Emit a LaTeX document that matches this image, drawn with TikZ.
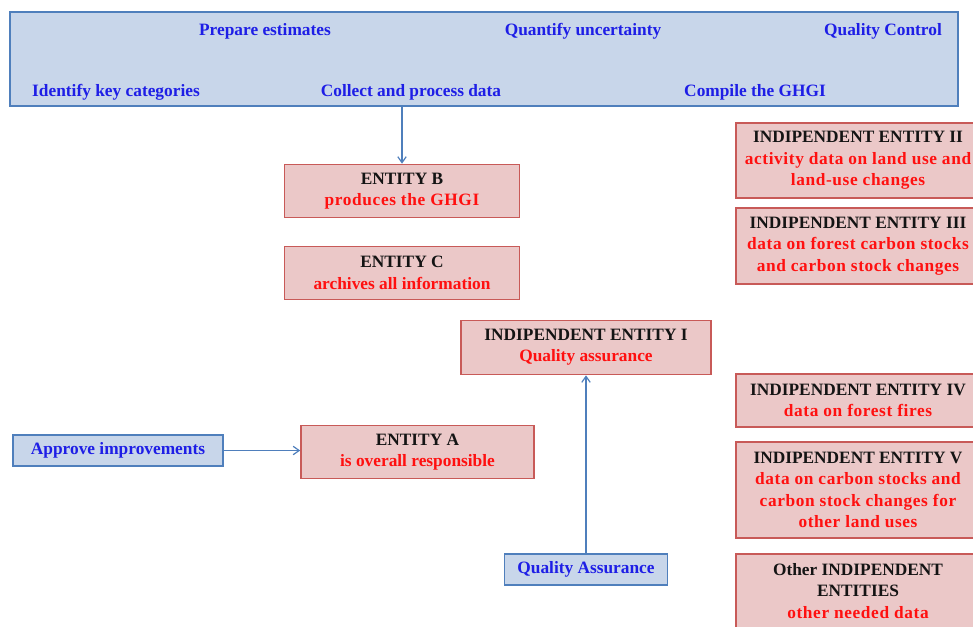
\documentclass[tikz,border=0pt]{standalone}
\usepackage{fontspec}
\setmainfont{Liberation Serif}
\usetikzlibrary{arrows.meta}
\definecolor{bfill}{HTML}{C8D6EA}
\definecolor{bdraw}{HTML}{4F7FBC}
\definecolor{rfill}{HTML}{EBC8C8}
\definecolor{rdraw}{HTML}{C85A58}
\definecolor{btext}{HTML}{1E1EE6}
\definecolor{rtext}{HTML}{FF1010}
\definecolor{ttext}{HTML}{141414}
\tikzset{
  ent/.style={draw=rdraw, fill=rfill, line width=1.2pt, inner sep=0pt, align=center,
    font=\bfseries\fontsize{13}{16}\selectfont, text=ttext},
  act/.style={draw=bdraw, fill=bfill, line width=1.2pt, inner sep=0pt, align=center,
    font=\bfseries\fontsize{13}{16}\selectfont, text=btext},
  lbl/.style={inner sep=0pt, font=\bfseries\fontsize{13}{16}\selectfont, text=btext},
  conn/.style={draw=bdraw, line width=0.9pt, -{Straight Barb[angle=70:5.5pt]}},
}
\newcommand{\rt}[1]{\textcolor{rtext}{#1}}
\newcommand{\rs}[1]{\textcolor{rtext}{\addfontfeature{LetterSpace=3.5}#1}}
\begin{document}
\begin{tikzpicture}[x=0.75pt,y=-0.75pt]
\useasboundingbox (0,0) rectangle (973,626);
\clip (0,0) rectangle (973,626);
% banner
\node[draw=bdraw, fill=bfill, line width=2pt, inner sep=0pt, minimum width=948*0.75pt, minimum height=94*0.75pt] (banner) at (484,59) {};
\node[lbl] (pe) at (265,31) {Prepare estimates};
\node[lbl] (qu) at (583,31) {Quantify uncertainty};
\node[lbl] (qc) at (883,31) {Quality Control};
\node[lbl] (ik) at (116,92) {Identify key categories};
\node[lbl] (cp) at (411,92) {Collect and process data};
\node[lbl] (cg) at (755,92) {Compile the GHGI};
% entities
\node[ent, minimum width=235*0.75pt, minimum height=53*0.75pt] (eb) at (402,191) {ENTITY B\\\rs{produces the GHGI}};
\node[ent, minimum width=235*0.75pt, minimum height=53*0.75pt] (ec) at (402,273) {ENTITY C\\\rt{archives all information}};
\node[ent, minimum width=250*0.75pt, minimum height=54*0.75pt] (e1) at (586,347.5) {INDIPENDENT ENTITY I\\\rt{Quality assurance}};
\node[ent, minimum width=233*0.75pt, minimum height=53*0.75pt] (ea) at (417.5,452) {ENTITY A\\\rt{is overall responsible}};
\node[act, minimum width=210*0.75pt, minimum height=31*0.75pt] (ap) at (118,450.5) {Approve improvements};
\node[act, minimum width=163*0.75pt, minimum height=31*0.75pt] (qa) at (586,569.5) {Quality Assurance};
% right column
\node[ent, minimum width=244*0.75pt, minimum height=75*0.75pt] (e2) at (858,160.5) {INDIPENDENT ENTITY II\\\rs{activity data on land use and}\\\rs{land-use changes}};
\node[ent, minimum width=244*0.75pt, minimum height=76*0.75pt] (e3) at (858,246) {INDIPENDENT ENTITY III\\\rs{data on forest carbon stocks}\\\rs{and carbon stock changes}};
\node[ent, minimum width=244*0.75pt, minimum height=53*0.75pt] (e4) at (858,400.5) {INDIPENDENT ENTITY IV\\\rs{data on forest fires}};
\node[ent, minimum width=244*0.75pt, minimum height=96*0.75pt] (e5) at (858,490) {INDIPENDENT ENTITY V\\\rs{data on carbon stocks and}\\\rs{carbon stock changes for}\\\rs{other land uses}};
\node[ent, minimum width=244*0.75pt, minimum height=74*0.75pt] (eo) at (858,591) {Other INDIPENDENT\\ENTITIES\\\rs{other needed data}};
% connectors
\draw[conn] (eb.north |- banner.south) -- (eb.north);
\draw[conn] (ap.east) -- (ap.east -| ea.west);
\draw[conn] (e1.south |- qa.north) -- (e1.south);
\end{tikzpicture}
\end{document}
